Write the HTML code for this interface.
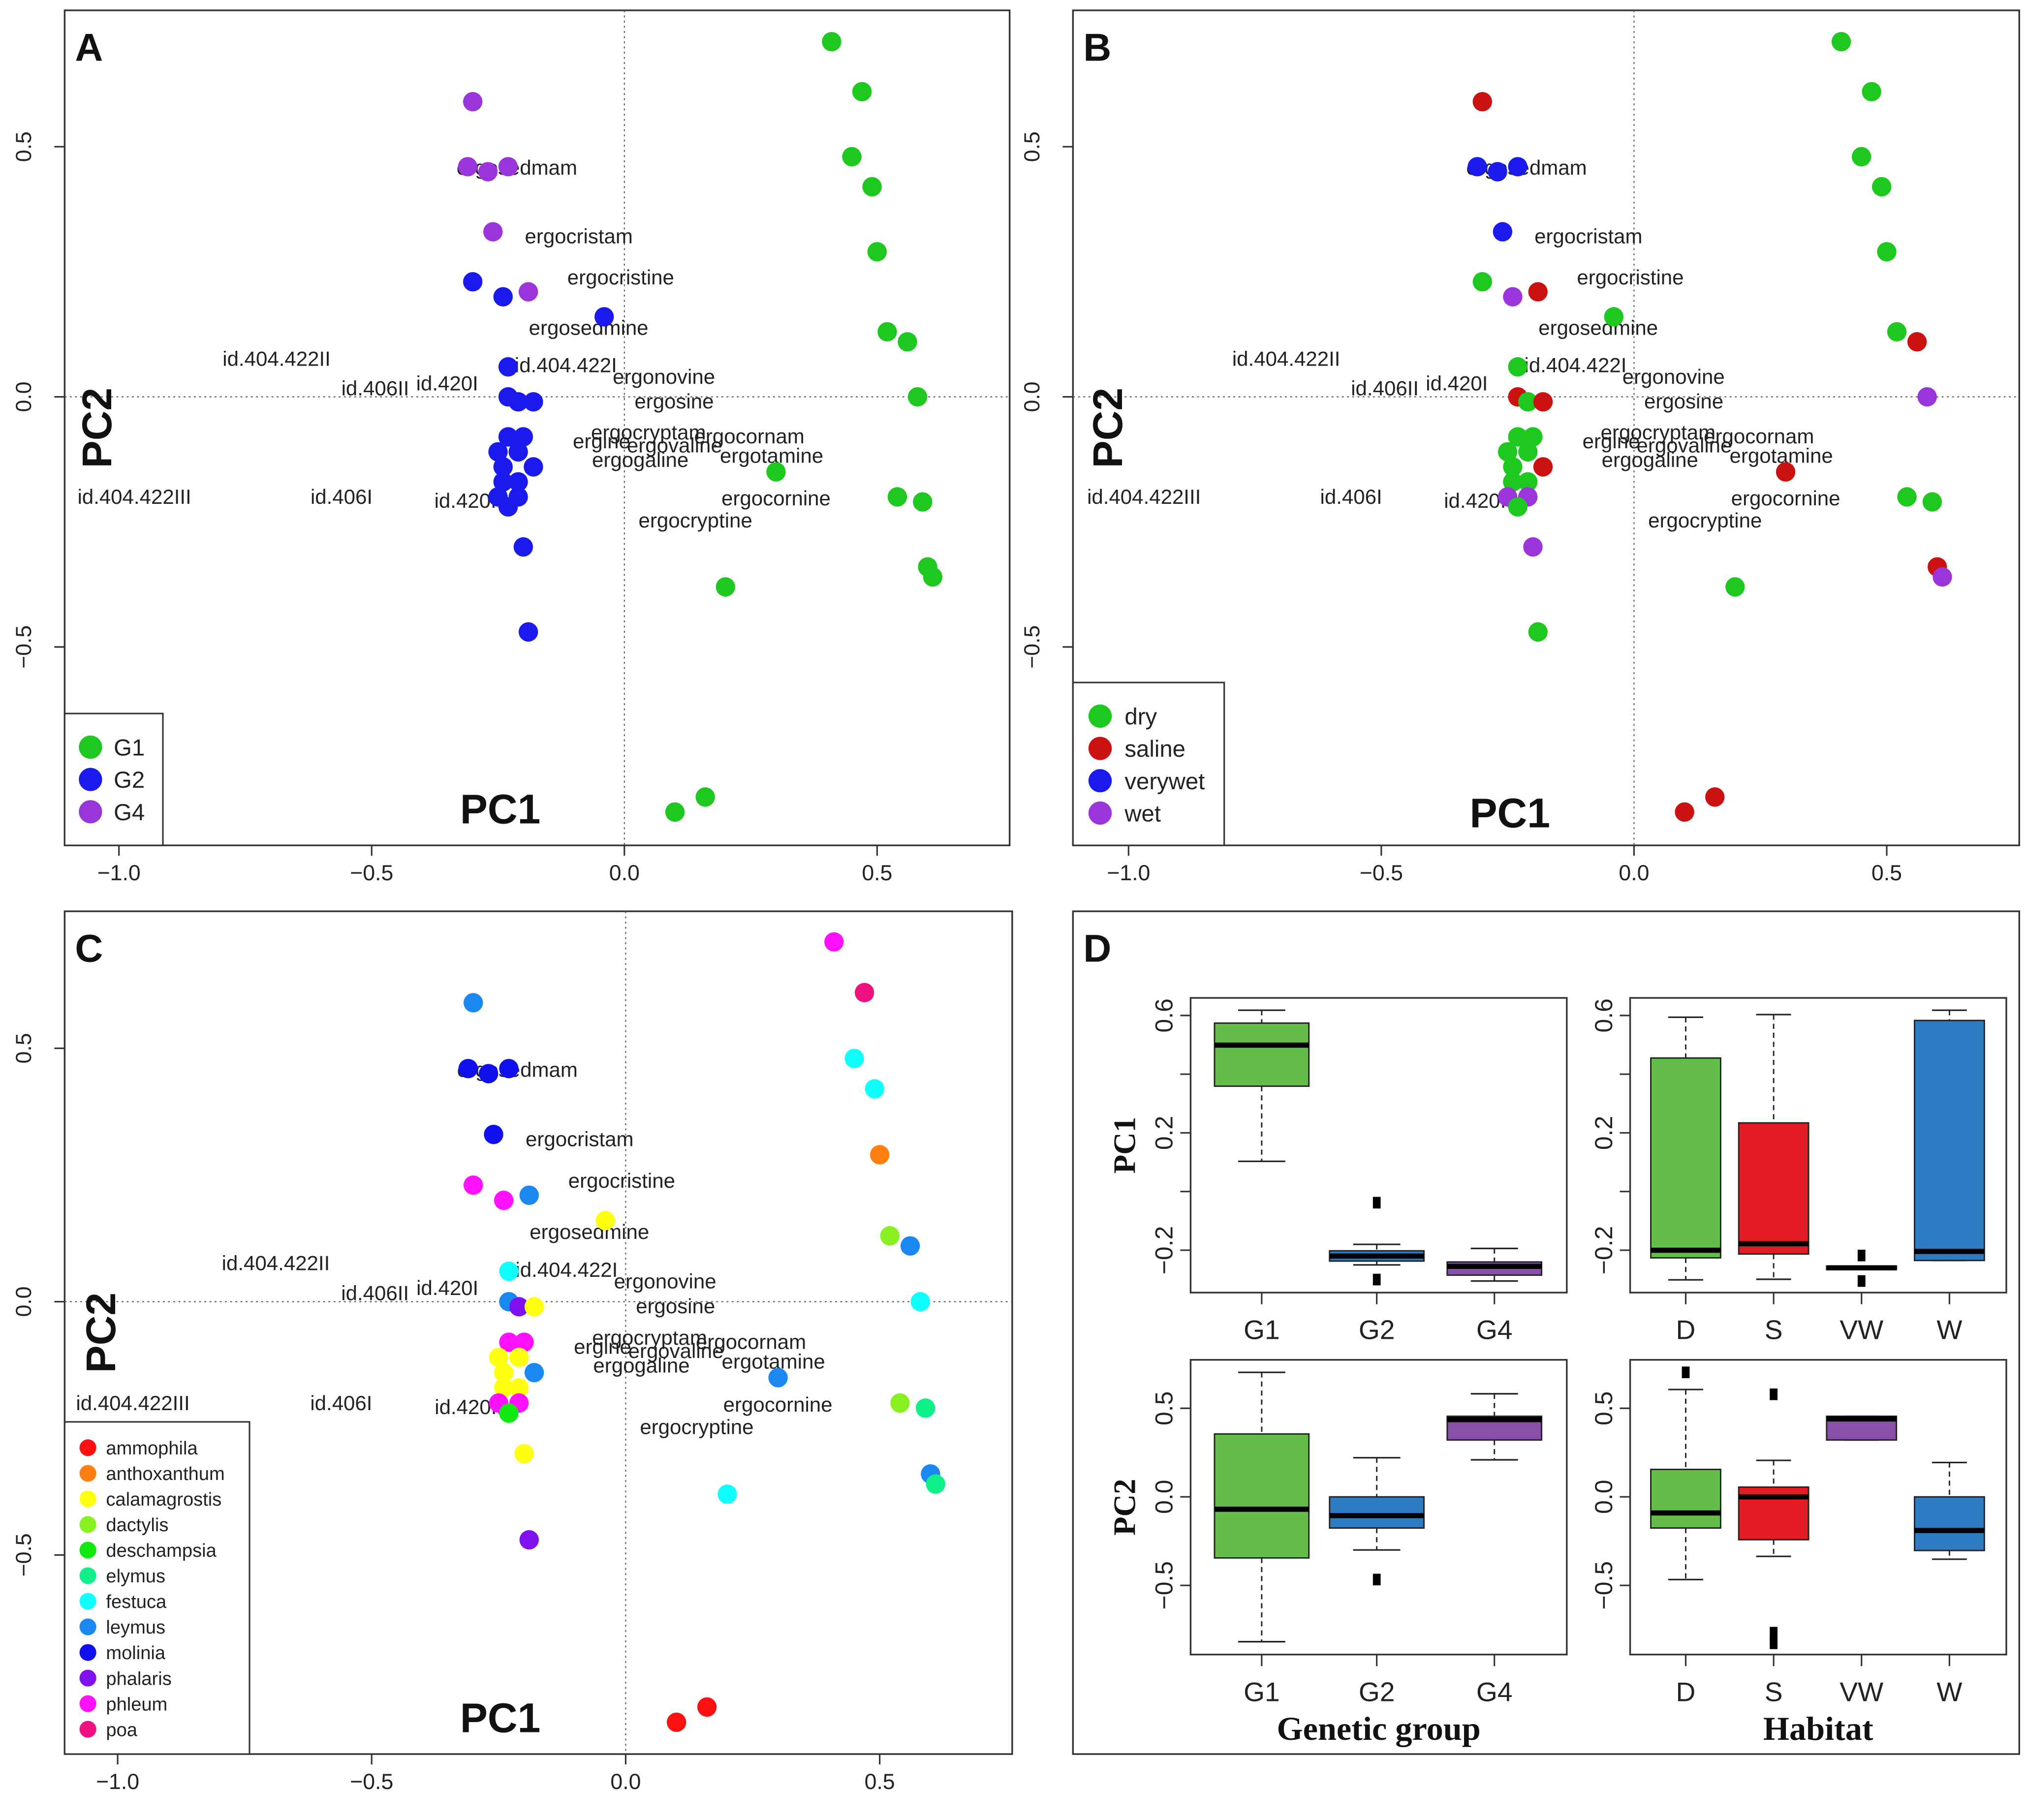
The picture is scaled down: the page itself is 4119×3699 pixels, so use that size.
<!DOCTYPE html>
<html><head><meta charset="utf-8"><style>html,body{margin:0;padding:0;background:#fff}svg{display:block}text{font-family:"Liberation Sans",sans-serif}</style></head>
<body>
<svg id="fig" xmlns="http://www.w3.org/2000/svg" width="4119" height="3699" viewBox="0 0 1568 1408" preserveAspectRatio="none"></svg>
<script>
// ---- scatter data (PC1, PC2) ----
const pc1 = [0.41,0.47,0.45,0.49,0.50,0.52,0.56,0.58,0.30,0.54,0.59,0.60,0.61,0.20,0.16,0.10,-0.30,-0.31,-0.27,-0.23,-0.26,-0.19,-0.30,-0.24,-0.04,-0.23,-0.23,-0.21,-0.18,-0.23,-0.20,-0.25,-0.21,-0.24,-0.18,-0.24,-0.21,-0.25,-0.21,-0.23,-0.20,-0.19];
const pc2 = [0.71,0.61,0.48,0.42,0.29,0.13,0.11,0.00,-0.15,-0.20,-0.21,-0.34,-0.36,-0.38,-0.80,-0.83,0.59,0.46,0.45,0.46,0.33,0.21,0.23,0.20,0.16,0.06,0.00,-0.01,-0.01,-0.08,-0.08,-0.11,-0.11,-0.14,-0.14,-0.17,-0.17,-0.20,-0.20,-0.22,-0.30,-0.47];
const groups = ["G1","G1","G1","G1","G1","G1","G1","G1","G1","G1","G1","G1","G1","G1","G1","G1","G4","G4","G4","G4","G4","G4","G2","G2","G2","G2","G2","G2","G2","G2","G2","G2","G2","G2","G2","G2","G2","G2","G2","G2","G2","G2"];
const habitats = ["dry","dry","dry","dry","dry","dry","saline","wet","saline","dry","dry","saline","wet","dry","saline","saline","saline","verywet","verywet","verywet","verywet","saline","dry","wet","dry","dry","saline","dry","saline","dry","dry","dry","dry","dry","saline","dry","dry","wet","wet","dry","wet","dry"];
const species = ["phleum","poa","festuca","festuca","anthoxanthum","dactylis","leymus","festuca","leymus","dactylis","elymus","leymus","elymus","festuca","ammophila","ammophila","leymus","molinia","molinia","molinia","molinia","leymus","phleum","phleum","calamagrostis","festuca","leymus","phalaris","calamagrostis","phleum","phleum","calamagrostis","calamagrostis","calamagrostis","leymus","calamagrostis","calamagrostis","phleum","phleum","deschampsia","calamagrostis","phalaris"];
// loading labels
const loadNames = ["ergosedmam","ergocristam","ergocristine","ergosedmine","id.404.422II","id.404.422I","ergonovine","id.406II","id.420I","ergosine","ergocryptam","ergocornam","ergine","ergovaline","ergogaline","ergotamine","id.404.422III","id.406I","id.420II","ergocornine","ergocryptine"];
const loadX = [-0.332,-0.197,-0.113,-0.189,-0.795,-0.217,-0.023,-0.560,-0.412,0.020,-0.066,0.138,-0.102,0.005,-0.064,0.189,-1.082,-0.621,-0.376,0.192,0.028];
const loadY = [0.444,0.307,0.225,0.124,0.062,0.049,0.026,0.003,0.013,-0.023,-0.085,-0.093,-0.103,-0.111,-0.140,-0.132,-0.214,-0.214,-0.222,-0.217,-0.261];
const xTicks = [-1.0,-0.5,0.0,0.5];
const xTickLabels = ["\u22121.0","\u22120.5","0.0","0.5"];
const yTicks = [-0.5,0.0,0.5];
const yTickLabels = ["\u22120.5","0.0","0.5"];
const groupNames = ["G1","G2","G4"];
const habitatNames = ["dry","saline","verywet","wet"];
const speciesNames = ["ammophila","anthoxanthum","calamagrostis","dactylis","deschampsia","elymus","festuca","leymus","molinia","phalaris","phleum","poa"];
// ---- boxplot data [whiskerLow, q1, median, q3, whiskerHigh] ----
const bpGroupCats = ["G1","G2","G4"];
const bpHabCats = ["D","S","VW","W"];
const pc1Group = [[0.103,0.359,0.499,0.574,0.618],[-0.25,-0.237,-0.22,-0.202,-0.18],[-0.305,-0.285,-0.255,-0.24,-0.194]];
const pc1GroupOut = [[],[-0.038,-0.30],[]];
const pc1Hab = [[-0.301,-0.226,-0.20,0.455,0.594],[-0.299,-0.213,-0.178,0.234,0.603],[-0.262,-0.266,-0.26,-0.254,-0.256],[-0.235,-0.235,-0.204,0.583,0.618]];
const pc1HabOut = [[],[],[-0.218,-0.305],[]];
const pc2Group = [[-0.818,-0.345,-0.07,0.355,0.703],[-0.30,-0.176,-0.106,0.0,0.221],[0.209,0.321,0.436,0.455,0.582]];
const pc2GroupOut = [[],[-0.467],[]];
const pc2Hab = [[-0.467,-0.176,-0.091,0.155,0.606],[-0.336,-0.242,0.0,0.055,0.206],[0.321,0.321,0.44,0.455,0.455],[-0.352,-0.303,-0.19,0.0,0.194]];
const pc2HabOut = [[0.703],[0.579,-0.767,-0.827],[],[]];

const NS="http://www.w3.org/2000/svg";
const svg=document.getElementById('fig');
function el(tag,attrs,parent,txt){const e=document.createElementNS(NS,tag);for(const k in attrs)e.setAttribute(k,attrs[k]);if(txt!==undefined)e.textContent=txt;(parent||svg).appendChild(e);return e;}

const groupColor={G1:"#1ec81e",G2:"#1a1aee",G4:"#9a35dc"};
const habColor={dry:"#1ec81e",saline:"#cc1111",verywet:"#1a1aee",wet:"#9a35dc"};
const spColor={ammophila:"#ff1010",anthoxanthum:"#ff8010",calamagrostis:"#ffff10",dactylis:"#88f020",deschampsia:"#10e810",elymus:"#10f088",festuca:"#10ffff",leymus:"#1a88f0",molinia:"#1010ee",phalaris:"#8010f0",phleum:"#ff10ff",poa:"#f01080"};

const panels=[
 {id:"A",frame:[50,8,781,654],x0:483,xs:391,y0:307,ys:387,color:i=>groupColor[groups[i]],leg:{names:groupNames,cols:groupColor,box:[50,552,126,654],cx:70,ty0:578,dy:25,r:9,fs:18,tx:88},pc2x:75,pc1x:387,pc1y:637,letter:[58,47]},
 {id:"B",frame:[830,8,1562,654],x0:1264,xs:391,y0:307,ys:387,color:i=>habColor[habitats[i]],leg:{names:habitatNames,cols:habColor,box:[830,528,947,654],cx:851,ty0:554,dy:25,r:9,fs:18,tx:870},pc2x:857,pc1x:1168,pc1y:640,letter:[838,47]},
 {id:"C",frame:[50,705,783,1357],x0:484,xs:393,y0:1007,ys:392,color:i=>spColor[species[i]],leg:{names:speciesNames,cols:spColor,box:[50,1100,193,1357],cx:68,ty0:1120,dy:19.8,r:6.5,fs:14.5,tx:82},pc2x:78,pc1x:387,pc1y:1340,letter:[58,744]}
];

panels.forEach(p=>{
  const g=el('g',{});
  
  
  const [l,t,r,b]=p.frame;
  const X=v=>p.x0+v*p.xs, Y=v=>p.y0-v*p.ys;
  const fr=el('rect',{x:l,y:t,width:r-l,height:b-t,fill:"none",stroke:"#333","stroke-width":1.3},g);
  
  const vz=el('line',{x1:X(0),x2:X(0),y1:t,y2:b,stroke:"#555","stroke-width":0.8,"stroke-dasharray":"1.5,2.5"},g);
  
  const hz=el('line',{x1:l,x2:r,y1:Y(0),y2:Y(0),stroke:"#555","stroke-width":0.8,"stroke-dasharray":"1.5,2.5"},g);
  
  xTicks.forEach((v,i)=>{
    el('line',{x1:X(v),x2:X(v),y1:b,y2:b+8,stroke:"#333","stroke-width":1.2},g);
    const tx=el('text',{x:X(v),y:b+27,"font-size":17,"text-anchor":"middle",fill:"#222"},g,xTickLabels[i]);
    
  });
  yTicks.forEach((v,i)=>{
    el('line',{x1:l-8,x2:l,y1:Y(v),y2:Y(v),stroke:"#333","stroke-width":1.2},g);
    const tx=el('text',{x:0,y:0,"font-size":17,"text-anchor":"middle",fill:"#222",transform:`translate(${l-26},${Y(v)}) rotate(-90)`},g,yTickLabels[i]);
    
  });
  loadNames.forEach((n,i)=>{
    const tx=el('text',{x:X(loadX[i]),y:Y(loadY[i]),"font-size":16,fill:"#222"},g,n);
    
  });
  pc1.forEach((v,i)=>{
    const c=el('circle',{cx:X(v),cy:Y(pc2[i]),r:7.5,fill:p.color(i)},g);
    
  });
  const t2=el('text',{x:0,y:0,"font-size":32,"font-weight":"bold","text-anchor":"middle",fill:"#111",transform:`translate(${p.pc2x+11},${(t+b)/2}) rotate(-90)`},g,"PC2");
  
  const t1=el('text',{x:p.pc1x,y:p.pc1y,"font-size":32,"font-weight":"bold","text-anchor":"middle",fill:"#111"},g,"PC1");
  
  const lt=el('text',{x:p.letter[0],y:p.letter[1],"font-size":30,"font-weight":"bold",fill:"#111"},g,p.id);
  
  const L=p.leg;
  const lg=el('g',{},g);
  
  el('rect',{x:L.box[0],y:L.box[1],width:L.box[2]-L.box[0],height:L.box[3]-L.box[1],fill:"#fff",stroke:"#333","stroke-width":1.2},lg);
  L.names.forEach((n,i)=>{
    const y=L.ty0+i*L.dy;
    const c=el('circle',{cx:L.cx,cy:y,r:L.r,fill:L.cols[n]},lg);
    
    const tx=el('text',{x:L.tx,y:y+L.fs*0.36,"font-size":L.fs,fill:"#222"},lg,n);
    
  });
});

// ---- Panel D ----
const pd=el('g',{});

const pdf=el('rect',{x:830,y:705,width:732,height:652,fill:"none",stroke:"#333","stroke-width":1.3},pd);

const dl=el('text',{x:838,y:744,"font-size":30,"font-weight":"bold",fill:"#111"},pd,"D");


const grpCol=["#64bd48","#2e7bc4","#8a4fa8"];
const habCol=["#64bd48","#e31c23","#8a4fa8","#2e7bc4"];
const subplots=[
 {name:"pc1-by-group",frame:[921,772,1212,1000],cats:bpGroupCats,cx:[976,1065,1156],bw:73,stats:pc1Group,out:pc1GroupOut,cols:grpCol,y0:785.6,v0:0.6,s:227,ticks:[0.6,0.4,0.2,0.0,-0.2],labs:["0.6","","0.2","","\u22120.2"],ylab:"PC1"},
 {name:"pc1-by-habitat",frame:[1261,772,1552,1000],cats:bpHabCats,cx:[1304,1372,1440,1508],bw:54,stats:pc1Hab,out:pc1HabOut,cols:habCol,y0:785.6,v0:0.6,s:227,ticks:[0.6,0.4,0.2,0.0,-0.2],labs:["0.6","","0.2","","\u22120.2"]},
 {name:"pc2-by-group",frame:[921,1052,1212,1280],cats:bpGroupCats,cx:[976,1065,1156],bw:73,stats:pc2Group,out:pc2GroupOut,cols:grpCol,y0:1158,v0:0,s:137,ticks:[0.5,0.0,-0.5],labs:["0.5","0.0","\u22120.5"],ylab:"PC2",xlab:"Genetic group"},
 {name:"pc2-by-habitat",frame:[1261,1052,1552,1280],cats:bpHabCats,cx:[1304,1372,1440,1508],bw:54,stats:pc2Hab,out:pc2HabOut,cols:habCol,y0:1158,v0:0,s:137,ticks:[0.5,0.0,-0.5],labs:["0.5","0.0","\u22120.5"],xlab:"Habitat"}
];
subplots.forEach(sp=>{
  const g=el('g',{},pd);
  
  const [l,t,r,b]=sp.frame;
  const Y=v=>sp.y0-(v-sp.v0)*sp.s;
  el('rect',{x:l,y:t,width:r-l,height:b-t,fill:"none",stroke:"#333","stroke-width":1.3},g);
  sp.ticks.forEach((v,i)=>{
    el('line',{x1:l-8,x2:l,y1:Y(v),y2:Y(v),stroke:"#333","stroke-width":1.2},g);
    if(sp.labs[i]){const tx=el('text',{x:0,y:0,"font-size":19,"text-anchor":"middle",fill:"#222",transform:`translate(${l-14},${Y(v)}) rotate(-90)`},g,sp.labs[i]);
    }
  });
  sp.cats.forEach((c,i)=>{
    const x=sp.cx[i];
    el('line',{x1:x,x2:x,y1:b,y2:b+9,stroke:"#333","stroke-width":1.2},g);
    const tx=el('text',{x:x,y:b+36,"font-size":21,"text-anchor":"middle",fill:"#222"},g,c);
    
    const s=sp.stats[i], hw=sp.bw/2;
    const bx=el('g',{},g);
    
    el('line',{x1:x,x2:x,y1:Y(s[4]),y2:Y(s[3]),stroke:"#222","stroke-width":1.1,"stroke-dasharray":"4,3"},bx);
    el('line',{x1:x,x2:x,y1:Y(s[1]),y2:Y(s[0]),stroke:"#222","stroke-width":1.1,"stroke-dasharray":"4,3"},bx);
    el('line',{x1:x-hw/2,x2:x+hw/2,y1:Y(s[4]),y2:Y(s[4]),stroke:"#222","stroke-width":1.2},bx);
    el('line',{x1:x-hw/2,x2:x+hw/2,y1:Y(s[0]),y2:Y(s[0]),stroke:"#222","stroke-width":1.2},bx);
    el('rect',{x:x-hw,y:Y(s[3]),width:sp.bw,height:Math.max(1,Y(s[1])-Y(s[3])),fill:sp.cols[i],stroke:"#222","stroke-width":1.1},bx);
    el('line',{x1:x-hw,x2:x+hw,y1:Y(s[2]),y2:Y(s[2]),stroke:"#000","stroke-width":4},bx);
    sp.out[i].forEach(o=>{
      const q=el('rect',{x:x-3,y:Y(o)-4.5,width:6,height:9,fill:"#000"},bx);
      
    });
  });
  if(sp.ylab){const tx=el('text',{x:0,y:0,"font-size":24,"font-weight":"bold","text-anchor":"middle",fill:"#111",style:"font-family:'Liberation Serif',serif",transform:`translate(${878},${(t+b)/2}) rotate(-90)`},g,sp.ylab);
    }
  if(sp.xlab){const tx=el('text',{x:(l+r)/2,y:1346,"font-size":26,"font-weight":"bold","text-anchor":"middle",fill:"#111",style:"font-family:'Liberation Serif',serif"},g,sp.xlab);
    }
});
</script>
</body></html>
